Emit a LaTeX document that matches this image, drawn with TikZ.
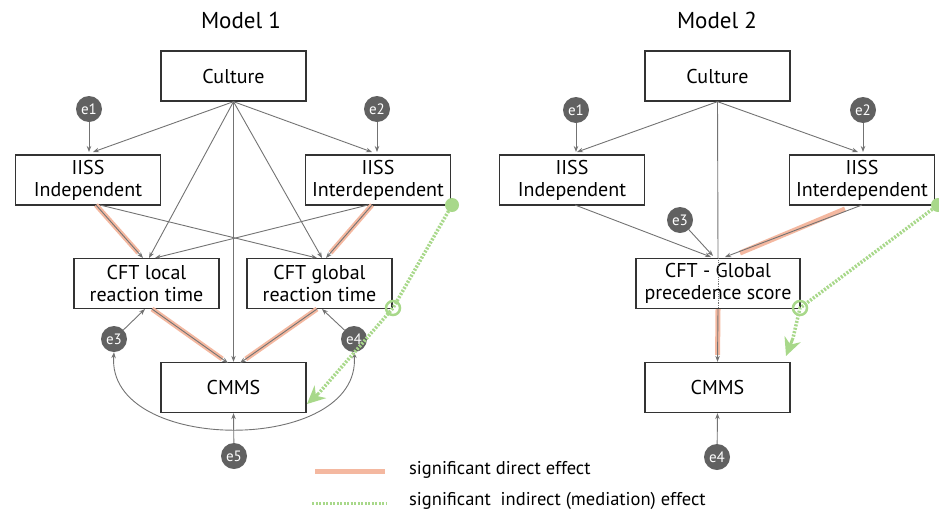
\documentclass[tikz,border=0pt]{standalone}
\usepackage{fontspec}
\setmainfont{PT Sans}
\usetikzlibrary{arrows.meta,calc}

\definecolor{sigred}{RGB}{244,184,160}
\definecolor{siggreen}{RGB}{168,216,138}

\tikzset{
  box/.style={draw=black!80, line width=1.3pt, minimum width=145pt, minimum height=50pt,
    align=center, inner sep=1pt, font=\fontsize{20}{22}\selectfont},
  errnode/.style={circle, fill=black!62, text=white, minimum size=26pt, inner sep=0pt,
    font=\fontsize{15}{16}\selectfont},
  link/.style={draw=black!55, line width=0.9pt, -{Stealth[length=6pt,width=4.5pt]}},
  sigband/.style={preaction={draw=sigred, line width=5pt, -, shorten >=7pt}},
  mediation/.style={draw=siggreen, line width=3.5pt, dash pattern=on 2pt off 1.5pt},
  ring/.style={circle, draw=siggreen, line width=2.5pt, minimum size=14pt, inner sep=0pt},
  title/.style={font=\fontsize{23}{25}\selectfont},
  legtext/.style={anchor=west, inner sep=1pt, font=\fontsize{18.5}{20}\selectfont},
}

\begin{document}
\begin{tikzpicture}[x=1pt,y=-1pt]
\useasboundingbox (0,0) rectangle (939,512);

% Model 1
\node[title] (t1) at (241,20) {Model 1};
\node[box] (cul1) at (233.5,76) {Culture};
\node[box] (ind1) at (88,180) {IISS\\Independent};
\node[box] (int1) at (378,180) {IISS\\Interdependent};
\node[box] (loc1) at (146.5,283.5) {CFT local\\reaction time};
\node[box] (glo1) at (319.5,283.5) {CFT global\\reaction time};
\node[box] (cmms1) at (233.5,387.5) {CMMS};
\node[errnode] (e11) at (89,109) {e1};
\node[errnode] (e12) at (377,109) {e2};
\node[errnode] (e13) at (114,339) {e3};
\node[errnode] (e14) at (354,339) {e4};
\node[errnode] (e15) at (234,456) {e5};

\draw[link] (cul1.south) -- (93,152);
\draw[link] (cul1.south) -- (372,152);
\draw[link] (cul1.south) -- (149,258);
\draw[link] (cul1.south) -- (322,258);
\draw[link] (cul1.south) -- (cmms1.north);
\draw[link] (e11) -- (89,152);
\draw[link] (e12) -- (377,152);

\draw[link, sigband] (96,205) -- (143,258);
\draw[link] (100,205) -- (317,258);
\draw[link] (368,205) -- (155,258);
\draw[link, sigband] (372,205) -- (326,258);
\draw[link, sigband] (152,309) -- (228,363);
\draw[link, sigband] (317,309) -- (240,363);
\draw[link] (e13) -- (145,309);
\draw[link] (e14) -- (322,309);
\draw[link] (e15) -- (cmms1.south);
\draw[draw=black!55, line width=0.9pt, {Stealth[length=6pt,width=4.5pt]}-{Stealth[length=6pt,width=4.5pt]}]
  (e13.south) .. controls (106,455) and (362,455) .. (e14.south);

\fill[siggreen] (452,205) circle (7);
\node[ring] (ring1) at (393,308) {};
\coordinate (g1e) at (307,404);
\draw[mediation] (452,205) -- (ring1.center) -- ($(g1e)+(12,-11)$);
\draw[siggreen, line width=3pt, -{Stealth[length=18pt,width=17pt]}] ($(g1e)+(12,-11)$) -- (g1e);

% Model 2
\node[title] (t2) at (717,20) {Model 2};
\node[box] (cul2) at (717.5,76) {Culture};
\node[box] (ind2) at (572,180) {IISS\\Independent};
\node[box] (int2) at (862,180) {IISS\\Interdependent};
\node[box, minimum width=164pt] (cfg2) at (718,283.5) {CFT - Global\\precedence score};
\node[box] (cmms2) at (717.5,387.5) {CMMS};
\node[errnode] (e21) at (576,110) {e1};
\node[errnode] (e22) at (863,110) {e2};
\node[errnode] (e23) at (680,220) {e3};
\node[errnode] (e24) at (717,457) {e4};

\draw[link] (cul2.south) -- (577,152);
\draw[link] (cul2.south) -- (858,152);
\draw[draw=black!55, line width=0.9pt] (cul2.south) -- (cfg2.north);
\draw[black!55, line width=0.9pt, densely dotted] (cfg2.north) -- (cfg2.south);
\draw[link] (e21) -- (576,152);
\draw[link] (e22) -- (863,152);
\draw[link] (575,205) -- (711,257);
\draw[link] (e23) -- (713,256);
\draw[sigred, line width=5pt] (845,209) -- (740,253);
\draw[link] (862,205) -- (725,257);
\draw[link, sigband] (cfg2.south) -- (cmms2.north);
\draw[link] (e24) -- (cmms2.south);

\fill[siggreen] (938,205) circle (7);
\node[ring] (ring2) at (800,308) {};
\coordinate (g2e) at (786,356);
\draw[mediation] (938,205) -- (ring2.center) -- (793,338);
\draw[siggreen, line width=3pt, -{Stealth[length=18pt,width=17pt]}] (793,338) -- (g2e);

% legend
\draw[sigred, line width=5pt] (315,471) -- (385,471);
\node[legtext] (leg1) at (408,470) {significant direct effect};
\draw[mediation, line width=3pt] (312,503) -- (387,503);
\node[legtext] (leg2) at (408,501) {significant\ \ indirect (mediation) effect};
\end{tikzpicture}
\end{document}
